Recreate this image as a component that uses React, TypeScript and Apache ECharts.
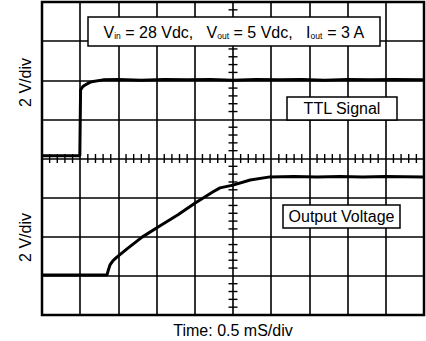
import React, { useEffect, useRef } from "react";
import * as echarts from "echarts";

// time in ms (0.5 ms/div), amplitude in screen divisions (2 V/div)
const ttlSignal: [number, number][] = [
  [0, 4.07], [0.3, 4.07], [0.495, 4.07], [0.505, 5.75], [0.535, 5.84], [0.565, 5.88],
  [0.62, 5.94], [0.67, 5.97], [0.8, 6.01], [1.0, 6.02], [1.3, 6.0], [1.6, 6.02],
  [1.9, 6.01], [2.2, 6.02], [2.5, 6.0], [2.8, 6.02], [3.1, 6.01], [3.4, 6.02],
  [3.7, 6.0], [4.0, 6.02], [4.3, 6.01], [4.6, 6.02], [5.0, 6.01],
];

const outputVoltage: [number, number][] = [
  [0, 1.02], [0.5, 1.02], [0.85, 1.02], [0.87, 1.16], [0.89, 1.28], [0.93, 1.39],
  [0.98, 1.48], [1.125, 1.71], [1.31, 1.99], [1.52, 2.25], [1.78, 2.56], [2.005, 2.86],
  [2.24, 3.15], [2.33, 3.25], [2.5, 3.32], [2.725, 3.45], [2.985, 3.53], [3.3, 3.54],
  [3.6, 3.53], [3.9, 3.54], [4.2, 3.53], [4.5, 3.54], [5.0, 3.53],
];

const timeAxis = [0, 5, 0.5]; // min, max, ms per division
const divAxis = [0, 8, 1]; // min, max, division
const minorPerDiv = 5; // graticule minor marks per division on the centre cross
const yAxisLabels = ["2 V/div", "2 V/div"];
const xAxisLabel = "Time: 0.5 mS/div";
const ttlLabel = "TTL Signal";
const outputLabel = "Output Voltage";
const conditionText =
  "{n|V}{s|in}{n| = 28 Vdc,   V}{s|out}{n| = 5 Vdc,   I}{s|out}{n| = 3 A}";

const FONT = "'Liberation Sans', Arial, Helvetica, sans-serif";
const W = 426;
const H = 341;

export default function App() {
  const ref = useRef<HTMLDivElement>(null);

  useEffect(() => {
    if (!ref.current) return;
    const chart = echarts.init(ref.current, undefined, { renderer: "svg" });

    // minor graticule marks along the centre cross: [x, y, orientation]
    const midX = (timeAxis[0] + timeAxis[1]) / 2;
    const midY = (divAxis[0] + divAxis[1]) / 2;
    const crossMarks: [number, number, number][] = [];
    const nx = ((timeAxis[1] - timeAxis[0]) / timeAxis[2]) * minorPerDiv;
    for (let i = 1; i < nx; i++) {
      if (i % minorPerDiv !== 0) crossMarks.push([timeAxis[0] + (i * timeAxis[2]) / minorPerDiv, midY, 0]);
    }
    const ny = ((divAxis[1] - divAxis[0]) / divAxis[2]) * minorPerDiv;
    for (let j = 1; j < ny; j++) {
      if (j % minorPerDiv !== 0) crossMarks.push([midX, divAxis[0] + (j * divAxis[2]) / minorPerDiv, 1]);
    }

    const boxStyle = { fill: "#fff", stroke: "#000", lineWidth: 1.5 };
    const textEl = (text: string, x: number, y: number) => ({
      type: "text",
      z: 101,
      x,
      y,
      style: {
        text,
        fill: "#000",
        fontSize: 16,
        fontFamily: FONT,
        align: "center",
        verticalAlign: "middle",
      },
    });

    const traceStyle = { color: "#000", width: 3 };
    const mainSplit = { show: true, lineStyle: { color: "#000", width: 1.6 } };

    chart.setOption({
      animation: false,
      grid: {
        left: 42,
        top: 2,
        right: 2,
        bottom: 26,
        show: true,
        borderColor: "#000",
        borderWidth: 2.5,
        backgroundColor: "#fff",
      },
      xAxis: {
        type: "value",
        min: timeAxis[0],
        max: timeAxis[1],
        interval: timeAxis[2],
        axisLine: { show: false, onZero: false },
        axisTick: { show: false },
        axisLabel: { show: false },
        splitLine: mainSplit,
      },
      yAxis: {
        type: "value",
        min: divAxis[0],
        max: divAxis[1],
        interval: divAxis[2],
        axisLine: { show: false, onZero: false },
        axisTick: { show: false },
        axisLabel: { show: false },
        splitLine: mainSplit,
      },
      series: [
        {
          type: "custom",
          silent: true,
          clip: false,
          z: 3,
          data: crossMarks,
          renderItem: (_params: any, api: any) => {
            const p = api.coord([api.value(0), api.value(1)]);
            const vertical = api.value(2) === 0;
            return {
              type: "line",
              shape: vertical
                ? { x1: p[0], y1: p[1] - 4.5, x2: p[0], y2: p[1] + 4.5 }
                : { x1: p[0] - 4.5, y1: p[1], x2: p[0] + 4.5, y2: p[1] },
              style: { stroke: "#000", lineWidth: 1.4 },
            };
          },
        },
        {
          name: ttlLabel,
          type: "line",
          data: ttlSignal,
          symbol: "none",
          lineStyle: traceStyle,
          z: 5,
        },
        {
          name: outputLabel,
          type: "line",
          data: outputVoltage,
          symbol: "none",
          lineStyle: traceStyle,
          z: 5,
        },
      ],
      graphic: [
        { type: "rect", z: 100, shape: { x: 88, y: 17, width: 292, height: 29 }, style: boxStyle },
        {
          type: "text",
          z: 101,
          x: 234,
          y: 31.5,
          style: {
            text: conditionText,
            fill: "#000",
            fontSize: 16,
            fontFamily: FONT,
            align: "center",
            verticalAlign: "middle",
            rich: {
              n: { fontSize: 16, fontFamily: FONT, fill: "#000", verticalAlign: "bottom", lineHeight: 18 },
              s: { fontSize: 8.5, fontFamily: FONT, fill: "#000", verticalAlign: "bottom", lineHeight: 18 },
            },
          },
        },
        { type: "rect", z: 100, shape: { x: 287, y: 97, width: 110, height: 23 }, style: boxStyle },
        textEl(ttlLabel, 342, 108.5),
        { type: "rect", z: 100, shape: { x: 283, y: 205, width: 117, height: 23 }, style: boxStyle },
        textEl(outputLabel, 341.5, 216.5),
        { ...textEl(yAxisLabels[0], 25, 82.5), rotation: Math.PI / 2 },
        { ...textEl(yAxisLabels[1], 25, 237.5), rotation: Math.PI / 2 },
        textEl(xAxisLabel, 233, 330),
      ],
    });

    return () => chart.dispose();
  }, []);

  return (
    <div
      ref={ref}
      style={{ position: "fixed", left: 0, top: 0, width: W, height: H, background: "#fff" }}
    />
  );
}
